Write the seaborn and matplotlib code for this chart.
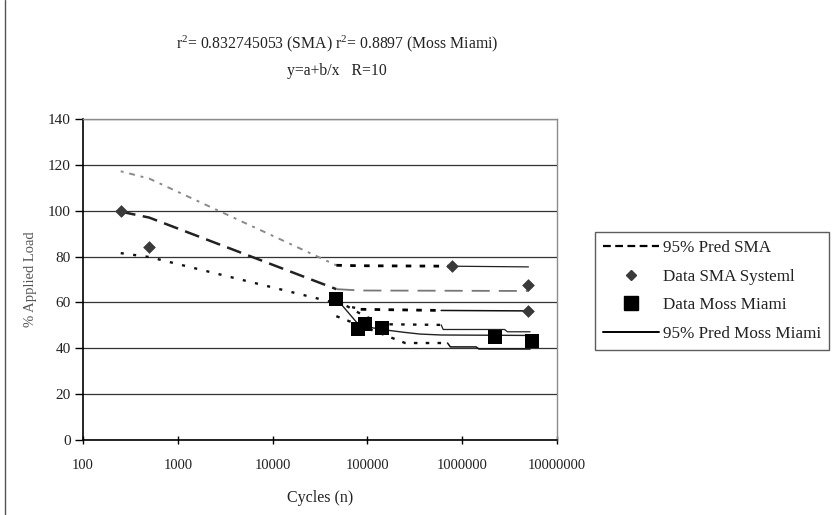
import matplotlib
matplotlib.use("Agg")
import matplotlib.pyplot as plt
import seaborn as sns
import numpy as np
from matplotlib.lines import Line2D

# ---------------- data ----------------
sma_data_x = [250, 500, 780000, 5000000, 5000000]
sma_data_y = [100, 84, 75.8, 67.5, 56.3]

moss_data_x = [47000, 80000, 95000, 142000, 2200000, 5400000]
moss_data_y = [61.7, 48.5, 50.8, 48.8, 45.0, 43.0]

sma_fit_x = [250, 500, 47000, 85000, 5000000]
sma_fit_y = [99.6, 97.0, 65.8, 65.2, 65.0]

sma_up_x = [250, 500, 47000, 85000, 780000, 5000000]
sma_up_y = [117.2, 114.0, 76.2, 76.0, 75.8, 75.5]

sma_lo_x = [250, 500, 47000, 85000, 600000, 5000000]
sma_lo_y = [81.5, 79.8, 59.7, 57.0, 56.5, 56.3]

moss_fit_x = [47000, 80000, 95000, 142000, 240000, 360000, 600000, 5200000]
moss_fit_y = [61.7, 50.5, 49.5, 48.2, 47.0, 46.2, 45.8, 45.6]

moss_up_x = [47000, 85000, 142000, 600000, 630000, 2800000, 3000000, 5200000]
moss_up_y = [61.0, 55.0, 50.5, 50.2, 48.2, 48.2, 47.2, 47.2]

moss_lo_x = [47000, 250000, 700000, 750000, 1400000, 1500000, 5200000]
moss_lo_y = [54.0, 42.3, 42.3, 40.6, 40.6, 39.7, 39.7]

x_ticks = [100, 1000, 10000, 100000, 1000000, 10000000]
x_tick_labels = ["100", "1000", "10000", "100000", "1000000", "10000000"]
y_ticks = [0, 20, 40, 60, 80, 100, 120, 140]

title_1 = r"r$^2$= 0.832745053 (SMA) r$^2$= 0.8897 (Moss Miami)"
title_2 = "y=a+b/x   R=10"
x_label = "Cycles (n)"
y_label = "% Applied Load"
legend_labels = ["95% Pred SMA", "Data SMA Systeml", "Data Moss Miami", "95% Pred Moss Miami"]

# ---------------- style ----------------
sns.set_theme(style="white")
plt.rcParams["font.family"] = ["Liberation Serif", "DejaVu Serif"]
plt.rcParams["mathtext.fontset"] = "custom"
plt.rcParams["mathtext.rm"] = "Liberation Serif"
plt.rcParams["mathtext.it"] = "Liberation Serif"

fig = plt.figure(figsize=(8.38, 5.15), dpi=100)
fig.patch.set_facecolor("white")
W, H = 838.0, 515.0
ax = fig.add_axes([83 / W, 1 - 440 / H, (557 - 83) / W, (440 - 119) / H])
ax.set_facecolor("white")


def seg(xs, ys, i0, i1, **kw):
    sns.lineplot(x=xs[i0:i1 + 1], y=ys[i0:i1 + 1], ax=ax, sort=False,
                 estimator=None, legend=False, **kw)


# SMA upper prediction
seg(sma_up_x, sma_up_y, 0, 2, color="#8a8a8a", lw=1.4, dashes=(1.5, 3, 3, 3))
seg(sma_up_x, sma_up_y, 2, 4, color="black", lw=2.0, dashes=(2, 3))
seg(sma_up_x, sma_up_y, 4, 5, color="#222222", lw=0.9)

# SMA fit
seg(sma_fit_x, sma_fit_y, 0, 2, color="#222222", lw=1.8, dashes=(6, 3))
seg(sma_fit_x, sma_fit_y, 2, 4, color="#777777", lw=1.3, dashes=(10, 5))

# SMA lower prediction
seg(sma_lo_x, sma_lo_y, 0, 3, color="#111111", lw=1.7, dashes=(1.3, 4))
seg(sma_lo_x, sma_lo_y, 3, 4, color="black", lw=2.0, dashes=(2, 3))
seg(sma_lo_x, sma_lo_y, 4, 5, color="#111111", lw=1.1)

# Moss Miami lines
seg(moss_fit_x, moss_fit_y, 0, len(moss_fit_x) - 1, color="#222222", lw=1.0)
seg(moss_up_x, moss_up_y, 0, 3, color="#111111", lw=1.7, dashes=(1.5, 3.5))
seg(moss_up_x, moss_up_y, 3, len(moss_up_x) - 1, color="#222222", lw=0.9)
seg(moss_lo_x, moss_lo_y, 0, 2, color="#111111", lw=1.7, dashes=(1.5, 3.5))
seg(moss_lo_x, moss_lo_y, 2, len(moss_lo_x) - 1, color="#111111", lw=1.1)

# data markers
sns.scatterplot(x=sma_data_x, y=sma_data_y, ax=ax, marker="D", s=42,
                color="#3a3a3a", edgecolor="#3a3a3a", linewidth=0, zorder=5, legend=False)
sns.scatterplot(x=moss_data_x, y=moss_data_y, ax=ax, marker="s", s=115,
                color="black", edgecolor="black", linewidth=0, zorder=6, legend=False)

# axes
ax.set_xscale("log")
ax.set_xlim(100, 10000000)
ax.set_ylim(0, 140)
ax.set_xticks(x_ticks)
ax.set_xticklabels(x_tick_labels)
ax.xaxis.set_minor_locator(matplotlib.ticker.NullLocator())
ax.set_yticks(y_ticks)
ax.set_yticklabels([str(v) for v in y_ticks])
ax.yaxis.grid(True, color="#333333", lw=0.9)
ax.xaxis.grid(False)
ax.set_axisbelow(True)
for s in ["left", "bottom"]:
    ax.spines[s].set_color("black")
    ax.spines[s].set_linewidth(1.2)
for s in ["top", "right"]:
    ax.spines[s].set_color("#8c8c8c")
    ax.spines[s].set_linewidth(1.0)
ax.tick_params(axis="y", direction="out", length=6, width=1, color="black",
               labelsize=11, labelcolor="#222222", pad=3, left=True)
ax.tick_params(axis="x", direction="inout", length=6, width=1, color="black",
               labelsize=10.5, labelcolor="#222222", pad=11, bottom=True)

ax.set_xlabel(x_label, fontsize=11.5, color="#222222", labelpad=13)
ax.set_ylabel(y_label, fontsize=10.5, color="#555555", labelpad=8)

fig.text(337 / W, 1 - 44 / H, title_1, ha="center", va="center", fontsize=11.3, color="#222222")
fig.text(337 / W, 1 - 71 / H, title_2, ha="center", va="center", fontsize=11.3, color="#222222")

# left frame line
fig.add_artist(Line2D([5 / W, 5 / W], [0, 1], transform=fig.transFigure, color="#555555", lw=1.0))

# legend
handles = [
    Line2D([], [], color="black", lw=1.6, dashes=(3.5, 2)),
    Line2D([], [], color="#3a3a3a", marker="D", markersize=5.5, lw=0),
    Line2D([], [], color="black", marker="s", markersize=10.5, lw=0),
    Line2D([], [], color="black", lw=1.4),
]
leg = fig.legend(handles, legend_labels, loc="center left",
                 bbox_to_anchor=(595 / W, 1 - 291 / H), frameon=True, fancybox=False,
                 fontsize=12.3, handlelength=3.3, handletextpad=0.25, labelspacing=0.75,
                 borderpad=0.45, borderaxespad=0)
leg.get_frame().set_edgecolor("#333333")
leg.get_frame().set_linewidth(1.0)
for t in leg.get_texts():
    t.set_color("#222222")

fig.savefig("out.png", dpi=100, facecolor="white")
